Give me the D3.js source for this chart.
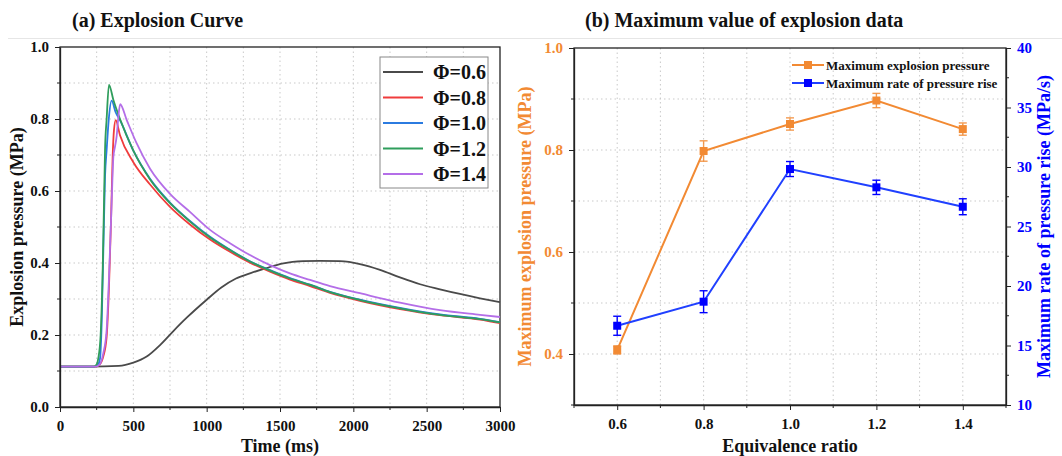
<!DOCTYPE html>
<html>
<head>
<meta charset="utf-8">
<script src="https://cdn.jsdelivr.net/npm/d3@7"></script>
<style>
  body { margin: 0; background: #fff; }
  svg { display: block; font-family: "Liberation Serif", "Times New Roman", serif; font-weight: bold; }
</style>
</head>
<body>
<svg id="chart" width="1062" height="456"></svg>
<script>
// ---- (a) explosion curves ----
const phiLabels = ["Φ=0.6", "Φ=0.8", "Φ=1.0", "Φ=1.2", "Φ=1.4"];

const t06 = [0, 200, 400, 500, 591, 682, 773, 864, 1000, 1100, 1200, 1300, 1400, 1523, 1659, 1773, 1909, 2045, 2182, 2318, 2455, 2591, 2727, 2864, 3000];
const p06 = [0.112, 0.112, 0.114, 0.123, 0.140, 0.172, 0.211, 0.248, 0.298, 0.332, 0.357, 0.372, 0.385, 0.399, 0.405, 0.406, 0.405, 0.397, 0.381, 0.360, 0.341, 0.327, 0.314, 0.302, 0.291];

const t08 = [0, 240, 270, 295, 318, 334, 348, 359, 368, 380, 409, 500, 614, 750, 886, 1023, 1159, 1295, 1432, 1568, 1705, 1841, 2045, 2318, 2591, 2864, 3000];
const p08 = [0.112, 0.112, 0.118, 0.140, 0.195, 0.334, 0.519, 0.695, 0.769, 0.797, 0.755, 0.680, 0.618, 0.556, 0.507, 0.465, 0.431, 0.401, 0.376, 0.354, 0.336, 0.317, 0.295, 0.272, 0.255, 0.243, 0.233];

const t10 = [0, 235, 260, 273, 284, 295, 307, 318, 332, 352, 380, 409, 500, 614, 750, 886, 1023, 1159, 1295, 1432, 1568, 1705, 1841, 2045, 2318, 2591, 2864, 3000];
const p10 = [0.112, 0.112, 0.118, 0.135, 0.232, 0.427, 0.640, 0.714, 0.797, 0.851, 0.818, 0.797, 0.712, 0.634, 0.568, 0.517, 0.473, 0.437, 0.405, 0.380, 0.358, 0.340, 0.320, 0.298, 0.275, 0.257, 0.245, 0.236];

const t12 = [0, 230, 250, 261, 277, 291, 300, 307, 318, 334, 364, 409, 500, 614, 750, 886, 1023, 1159, 1295, 1432, 1568, 1705, 1841, 2045, 2318, 2591, 2864, 3000];
const p12 = [0.112, 0.112, 0.118, 0.135, 0.200, 0.380, 0.566, 0.714, 0.800, 0.895, 0.853, 0.800, 0.712, 0.632, 0.566, 0.515, 0.471, 0.436, 0.404, 0.379, 0.357, 0.339, 0.319, 0.297, 0.274, 0.256, 0.244, 0.235];

const t14 = [0, 240, 270, 295, 318, 336, 352, 364, 375, 386, 398, 410, 455, 523, 614, 750, 886, 1023, 1159, 1295, 1432, 1568, 1705, 1841, 2045, 2318, 2591, 2864, 3000];
const p14 = [0.112, 0.112, 0.118, 0.149, 0.214, 0.381, 0.566, 0.695, 0.723, 0.751, 0.806, 0.841, 0.797, 0.732, 0.662, 0.592, 0.542, 0.492, 0.455, 0.422, 0.394, 0.371, 0.353, 0.336, 0.316, 0.290, 0.269, 0.256, 0.250];

const timeSeries = [t06, t08, t10, t12, t14];
const pressureSeries = [p06, p08, p10, p12, p14];
const curveColors = ["#4a4a4a", "#f03c3c", "#2b7be0", "#2f9e5c", "#b46ee8"];

// ---- (b) maximum values ----
const ratios = [0.6, 0.8, 1.0, 1.2, 1.4];
const maxPressure = [0.408, 0.798, 0.851, 0.897, 0.841];
const maxPressureErr = [0.008, 0.020, 0.012, 0.014, 0.012];
const maxRate = [16.66, 18.68, 29.83, 28.29, 26.66];
const maxRateErr = [0.80, 0.92, 0.63, 0.60, 0.67];
const legendB = ["Maximum explosion pressure", "Maximum rate of pressure rise"];

const orange = "#f28a33";
const blue = "#0000ff";
const blueLine = "#2040ff";
const gridColor = "#c9c9c9";
const serif = '"Liberation Serif", "Times New Roman", serif';

const svg = d3.select("#chart");

// thin separator under the titles
svg.append("line")
  .attr("x1", 8).attr("x2", 1062).attr("y1", 38.5).attr("y2", 38.5)
  .attr("stroke", "#e6e6e6").attr("stroke-width", 1);

// restyle a d3 axis group: serif bold labels, dark line
function styleAxis(g, size, col) {
  g.attr("font-family", serif).attr("font-size", size).attr("font-weight", "bold");
  g.select(".domain").attr("stroke", "#222").attr("stroke-width", 1.3);
  g.selectAll(".tick line").attr("stroke", "#222");
  g.selectAll("text").attr("font-family", serif).attr("font-size", size).attr("fill", col);
}

// =============== panel (a) ===============
const A = { left: 60, right: 500, top: 47, bottom: 407 };

const xA = d3.scaleLinear().domain([0, 3000]).range([A.left, A.right]);
const yA = d3.scaleLinear().domain([0, 1]).range([A.bottom, A.top]);

const gA = svg.append("g");

// grid
gA.selectAll(".gx").data(d3.range(250, 3000, 250)).join("line")
  .attr("x1", d => xA(d)).attr("x2", d => xA(d))
  .attr("y1", A.top).attr("y2", A.bottom)
  .attr("stroke", gridColor).attr("stroke-dasharray", "1.5,3");
gA.selectAll(".gy").data(d3.range(0.1, 1.0, 0.1)).join("line")
  .attr("x1", A.left).attr("x2", A.right)
  .attr("y1", d => yA(d)).attr("y2", d => yA(d))
  .attr("stroke", gridColor).attr("stroke-dasharray", "1.5,3");

// frame
gA.append("rect")
  .attr("x", A.left).attr("y", A.top)
  .attr("width", A.right - A.left).attr("height", A.bottom - A.top)
  .attr("fill", "none").attr("stroke", "#222").attr("stroke-width", 1.3);

// curves
const lineA = d3.line()
  .x(d => xA(d[0])).y(d => yA(d[1]))
  .curve(d3.curveMonotoneX);

timeSeries.forEach((ts, i) => {
  const pts = ts.map((t, k) => [t, pressureSeries[i][k]]);
  gA.append("path")
    .datum(pts)
    .attr("d", lineA)
    .attr("fill", "none")
    .attr("stroke", curveColors[i])
    .attr("stroke-width", 1.8);
});

// axes
const xAxisA = d3.axisBottom(xA).tickValues(d3.range(0, 3001, 500)).tickFormat(d3.format("d")).tickSize(5).tickSizeOuter(0).tickPadding(8);
const yAxisA = d3.axisLeft(yA).tickValues(d3.range(0, 1.01, 0.2)).tickFormat(d3.format(".1f")).tickSize(5).tickSizeOuter(0).tickPadding(6);

gA.append("g").attr("transform", `translate(0,${A.bottom})`).call(xAxisA)
  .call(g => styleAxis(g, 15, "#111"));
gA.append("g").attr("transform", `translate(${A.left},0)`).call(yAxisA)
  .call(g => styleAxis(g, 15, "#111"));

// minor ticks
gA.selectAll(".mx").data(d3.range(250, 3000, 500)).join("line")
  .attr("x1", d => xA(d)).attr("x2", d => xA(d))
  .attr("y1", A.bottom).attr("y2", A.bottom + 3)
  .attr("stroke", "#222");
gA.selectAll(".my").data(d3.range(0.1, 1.0, 0.2)).join("line")
  .attr("x1", A.left - 3).attr("x2", A.left)
  .attr("y1", d => yA(d)).attr("y2", d => yA(d))
  .attr("stroke", "#222");

// titles
svg.append("text").attr("x", 72).attr("y", 27).attr("font-size", 20).attr("fill", "#111")
  .text("(a) Explosion Curve");
svg.append("text").attr("x", (A.left + A.right) / 2).attr("y", 452)
  .attr("text-anchor", "middle").attr("font-size", 18).attr("fill", "#111")
  .text("Time (ms)");
svg.append("text")
  .attr("transform", `translate(23,${(A.top + A.bottom) / 2}) rotate(-90)`)
  .attr("text-anchor", "middle").attr("font-size", 18).attr("fill", "#111")
  .text("Explosion pressure (MPa)");

// legend (a)
const legA = svg.append("g").attr("transform", "translate(380,57)");
legA.append("rect").attr("width", 108).attr("height", 131)
  .attr("fill", "#fff").attr("stroke", "#888").attr("stroke-width", 1);
phiLabels.forEach((lab, i) => {
  const yy = 15 + i * 25.5;
  legA.append("line").attr("x1", 3).attr("x2", 43).attr("y1", yy).attr("y2", yy)
    .attr("stroke", curveColors[i]).attr("stroke-width", 2);
  legA.append("text").attr("x", 53).attr("y", yy + 7).attr("font-size", 20).attr("fill", "#111")
    .text(lab);
});

// =============== panel (b) ===============
const B = { left: 574, right: 1006, top: 48, bottom: 405 };

const xB = d3.scaleLinear().domain([0.5, 1.5]).range([B.left, B.right]);
const yL = d3.scaleLinear().domain([0.3, 1.0]).range([B.bottom, B.top]);
const yR = d3.scaleLinear().domain([10, 40]).range([B.bottom, B.top]);

const gB = svg.append("g");

gB.selectAll(".gx").data(d3.range(0.6, 1.45, 0.1)).join("line")
  .attr("x1", d => xB(d)).attr("x2", d => xB(d))
  .attr("y1", B.top).attr("y2", B.bottom)
  .attr("stroke", gridColor).attr("stroke-dasharray", "1.5,3");
gB.selectAll(".gy").data(d3.range(0.4, 0.95, 0.1)).join("line")
  .attr("x1", B.left).attr("x2", B.right)
  .attr("y1", d => yL(d)).attr("y2", d => yL(d))
  .attr("stroke", gridColor).attr("stroke-dasharray", "1.5,3");

gB.append("rect")
  .attr("x", B.left).attr("y", B.top)
  .attr("width", B.right - B.left).attr("height", B.bottom - B.top)
  .attr("fill", "none").attr("stroke", "#222").attr("stroke-width", 1.3);

// series helper
function drawSeries(vals, errs, yScale, col, lineCol, errOpacity) {
  const pts = ratios.map((r, i) => [r, vals[i], errs[i]]);
  gB.append("path")
    .datum(pts)
    .attr("d", d3.line().x(d => xB(d[0])).y(d => yScale(d[1])))
    .attr("fill", "none").attr("stroke", lineCol).attr("stroke-width", 2);
  const eb = gB.append("g").attr("stroke", col).attr("stroke-width", 1.4).attr("opacity", errOpacity);
  eb.selectAll(".v").data(pts).join("line")
    .attr("x1", d => xB(d[0])).attr("x2", d => xB(d[0]))
    .attr("y1", d => yScale(d[1] - d[2])).attr("y2", d => yScale(d[1] + d[2]));
  eb.selectAll(".ct").data(pts).join("line")
    .attr("x1", d => xB(d[0]) - 4).attr("x2", d => xB(d[0]) + 4)
    .attr("y1", d => yScale(d[1] + d[2])).attr("y2", d => yScale(d[1] + d[2]));
  eb.selectAll(".cb").data(pts).join("line")
    .attr("x1", d => xB(d[0]) - 4).attr("x2", d => xB(d[0]) + 4)
    .attr("y1", d => yScale(d[1] - d[2])).attr("y2", d => yScale(d[1] - d[2]));
  gB.append("g").selectAll("rect").data(pts).join("rect")
    .attr("x", d => xB(d[0]) - 4).attr("y", d => yScale(d[1]) - 4)
    .attr("width", 8).attr("height", 8).attr("fill", col);
}

drawSeries(maxPressure, maxPressureErr, yL, orange, orange, 0.85);
drawSeries(maxRate, maxRateErr, yR, blue, blueLine, 1);

// axes (b)
const xAxisB = d3.axisBottom(xB).tickValues(ratios).tickFormat(d3.format(".1f")).tickSize(5).tickSizeOuter(0).tickPadding(8);
const yAxisL = d3.axisLeft(yL).tickValues([0.4, 0.6, 0.8, 1.0]).tickFormat(d3.format(".1f")).tickSize(5).tickSizeOuter(0).tickPadding(6);
const yAxisR = d3.axisRight(yR).tickValues(d3.range(10, 41, 5)).tickSize(5).tickSizeOuter(0).tickPadding(6);

gB.append("g").attr("transform", `translate(0,${B.bottom})`).call(xAxisB)
  .call(g => styleAxis(g, 15, "#111"));
gB.append("g").attr("transform", `translate(${B.left},0)`).call(yAxisL)
  .call(g => styleAxis(g, 15, orange));
gB.append("g").attr("transform", `translate(${B.right},0)`).call(yAxisR)
  .call(g => styleAxis(g, 15, blue));

// minor ticks (b)
gB.selectAll(".mx").data(d3.range(0.5, 1.51, 0.2)).join("line")
  .attr("x1", d => xB(d)).attr("x2", d => xB(d))
  .attr("y1", B.bottom).attr("y2", B.bottom + 3).attr("stroke", "#222");
gB.selectAll(".myl").data([0.3, 0.5, 0.7, 0.9]).join("line")
  .attr("x1", B.left - 3).attr("x2", B.left)
  .attr("y1", d => yL(d)).attr("y2", d => yL(d)).attr("stroke", "#222");
gB.selectAll(".myr").data(d3.range(12.5, 40, 5)).join("line")
  .attr("x1", B.right).attr("x2", B.right + 3)
  .attr("y1", d => yR(d)).attr("y2", d => yR(d)).attr("stroke", "#222");

// titles (b)
svg.append("text").attr("x", 585).attr("y", 27).attr("font-size", 20).attr("fill", "#111")
  .text("(b) Maximum value of explosion data");
svg.append("text").attr("x", (B.left + B.right) / 2).attr("y", 452)
  .attr("text-anchor", "middle").attr("font-size", 18).attr("fill", "#111")
  .text("Equivalence ratio");
svg.append("text")
  .attr("transform", `translate(531,${(B.top + B.bottom) / 2}) rotate(-90)`)
  .attr("text-anchor", "middle").attr("font-size", 18).attr("fill", orange)
  .text("Maximum explosion pressure (MPa)");
svg.append("text")
  .attr("transform", `translate(1050,${(B.top + B.bottom) / 2}) rotate(-90)`)
  .attr("text-anchor", "middle").attr("font-size", 18).attr("fill", blue)
  .text("Maximum rate of pressure rise (MPa/s)");

// legend (b)
const legB = svg.append("g").attr("transform", "translate(792,65)");
[[orange, orange], [blue, blueLine]].forEach((c, i) => {
  const yy = i * 18;
  legB.append("line").attr("x1", 0).attr("x2", 32).attr("y1", yy).attr("y2", yy)
    .attr("stroke", c[1]).attr("stroke-width", 2);
  legB.append("rect").attr("x", 12).attr("y", yy - 4).attr("width", 8).attr("height", 8).attr("fill", c[0]);
  legB.append("text").attr("x", 34).attr("y", yy + 5).attr("font-size", 13).attr("fill", "#111")
    .text(legendB[i]);
});
</script>
</body>
</html>
